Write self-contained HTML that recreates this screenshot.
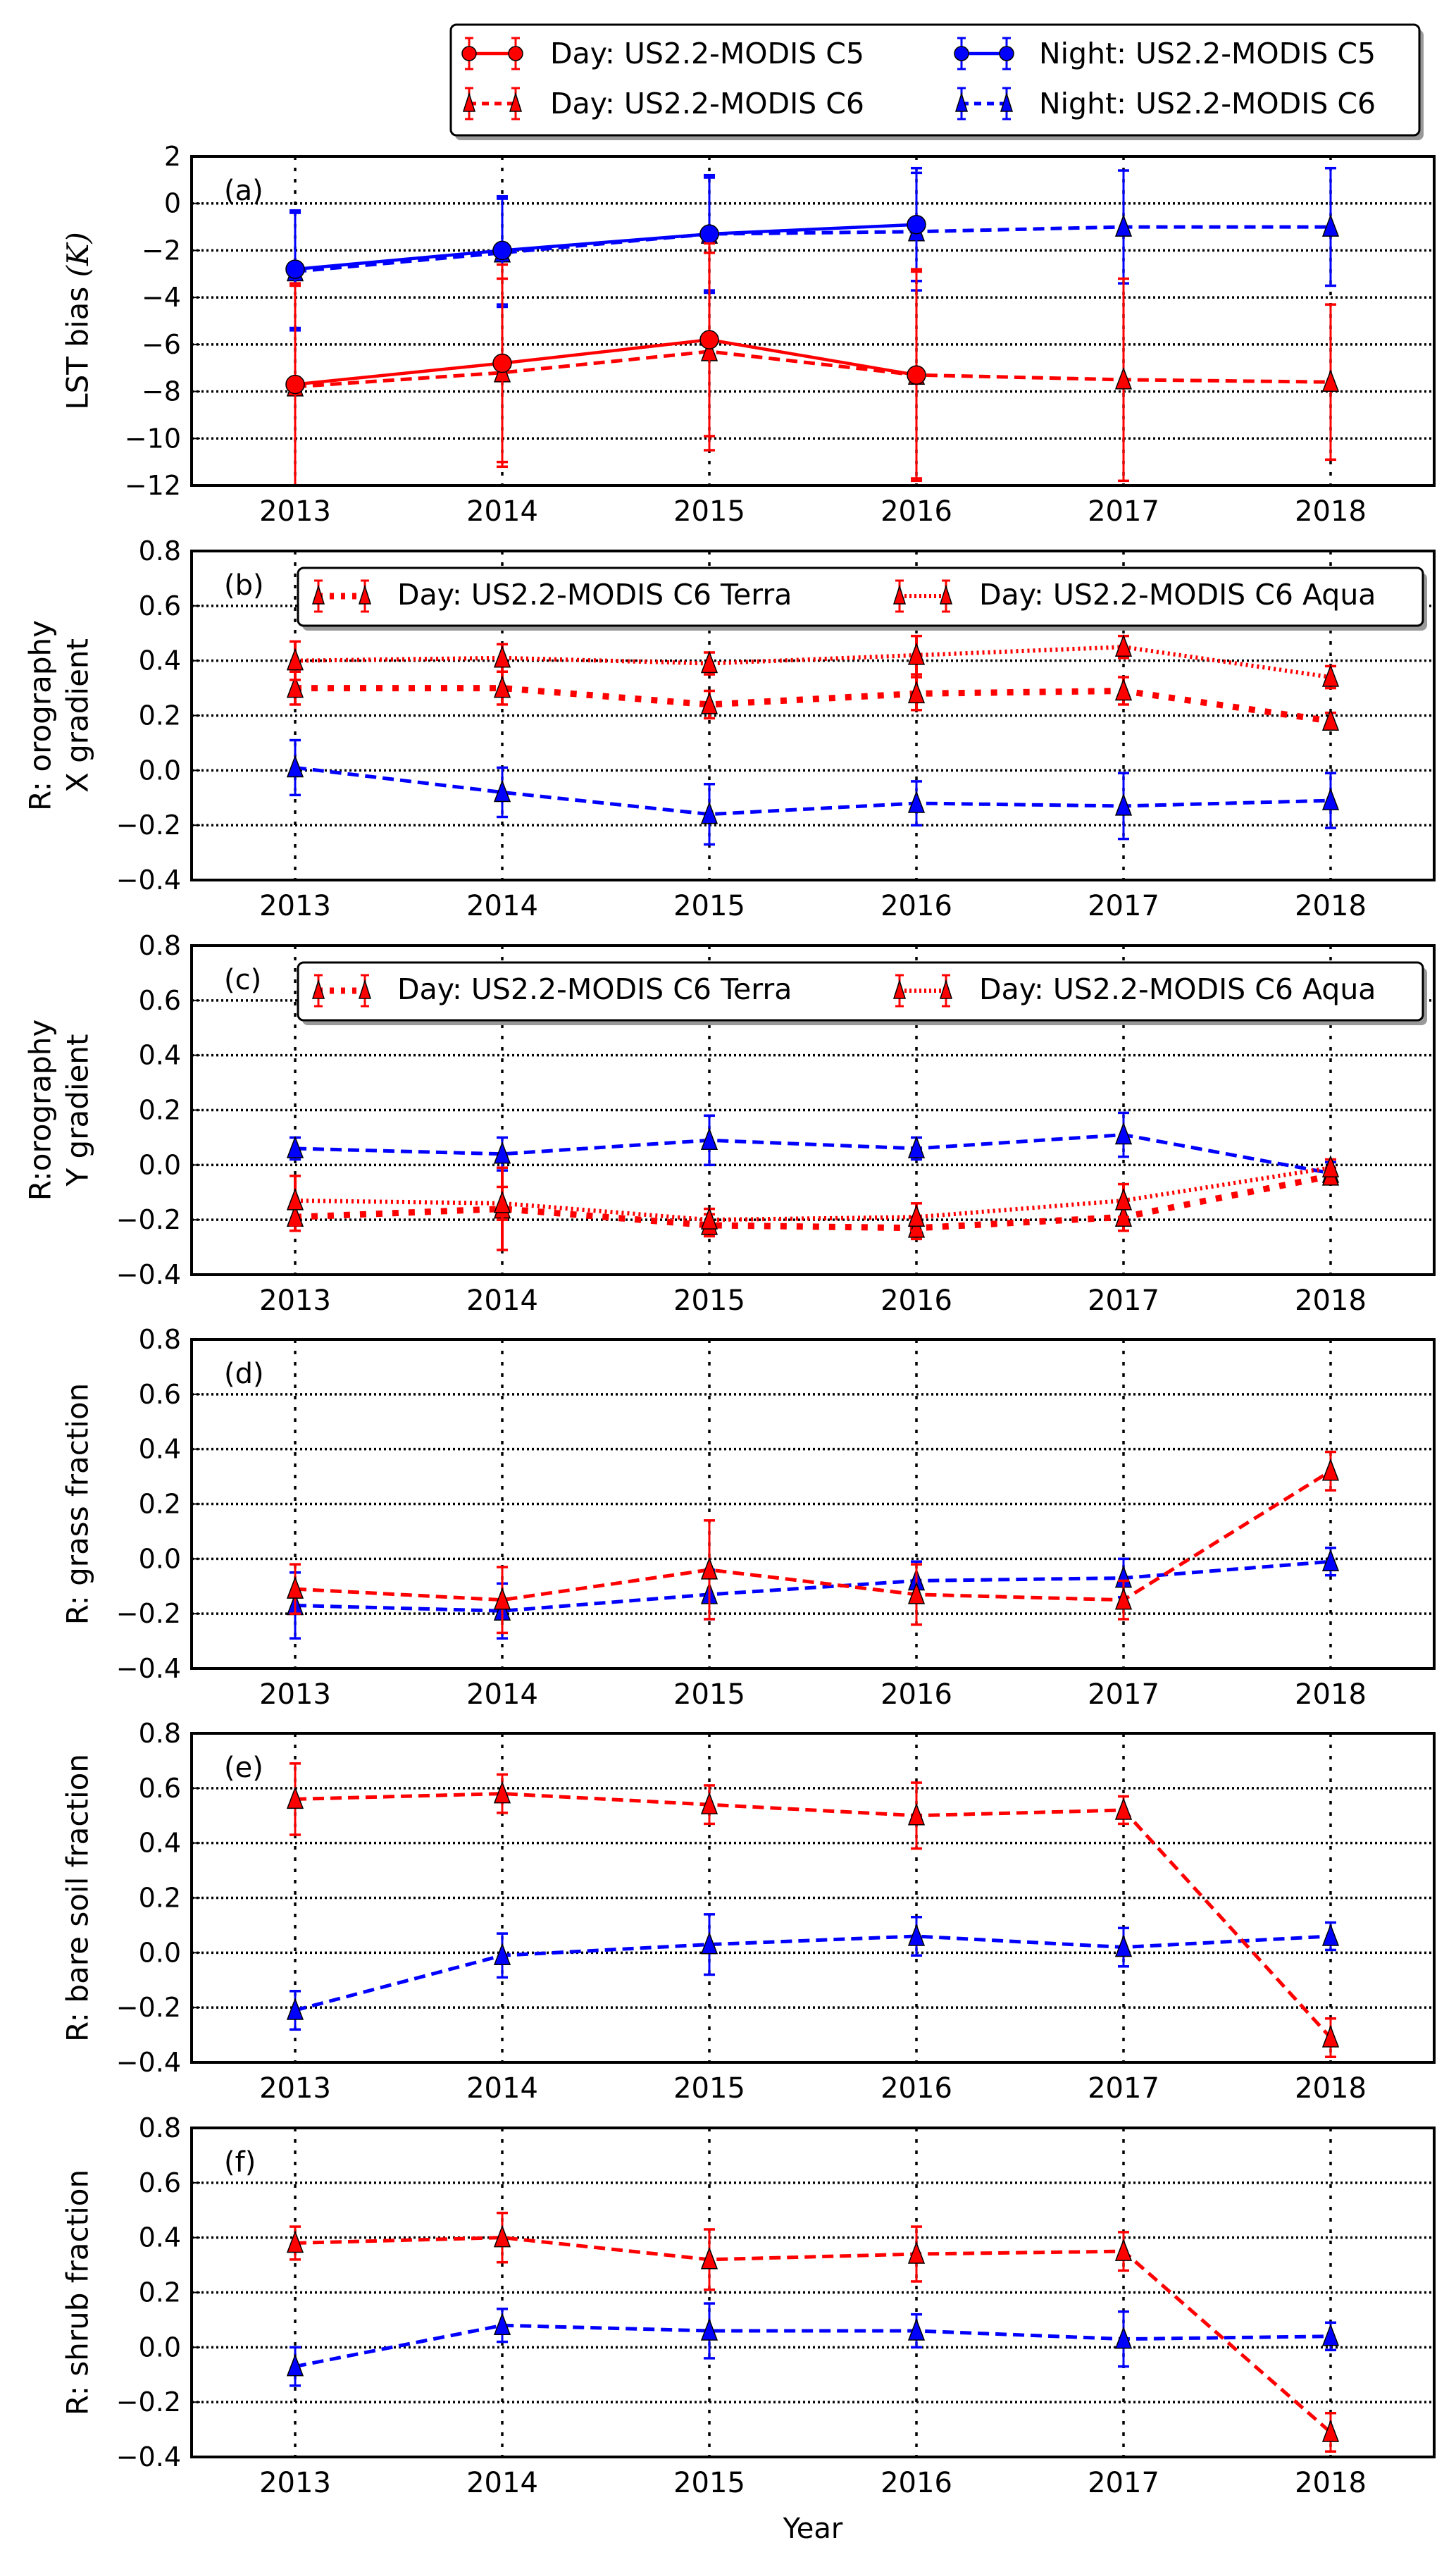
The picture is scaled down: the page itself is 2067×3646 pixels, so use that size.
<!DOCTYPE html>
<html><head><meta charset="utf-8"><style>
html,body{margin:0;padding:0;background:#fff;}
svg text{font-family:"DejaVu Sans","Liberation Sans",sans-serif;fill:#000;}
</style></head><body>
<svg id="fig" xmlns="http://www.w3.org/2000/svg" width="2067" height="3641" viewBox="0 0 2067 3641">
<rect width="2067" height="3641" fill="#fff"/>
</svg>
<script>
const years=[2013,2014,2015,2016,2017,2018];
const yearsC5=[2013,2014,2015,2016];
const aDayC5=[-7.7,-6.8,-5.8,-7.3];
const aDayC5Err=[4.3,4.2,4.1,4.5];
const aDayC6=[-7.8,-7.2,-6.3,-7.3,-7.5,-7.6];
const aDayC6Err=[4.3,4.0,4.2,4.4,4.3,3.3];
const aNightC5=[-2.8,-2.0,-1.3,-0.9];
const aNightC5Err=[2.5,2.3,2.5,2.4];
const aNightC6=[-2.9,-2.1,-1.3,-1.2,-1.0,-1.0];
const aNightC6Err=[2.5,2.3,2.4,2.5,2.4,2.5];
const bTerra=[0.30,0.30,0.24,0.28,0.29,0.18];
const bTerraErr=[0.06,0.06,0.05,0.06,0.05,0.03];
const bAqua=[0.40,0.41,0.39,0.42,0.45,0.34];
const bAquaErr=[0.07,0.05,0.04,0.07,0.04,0.04];
const bNight=[0.01,-0.08,-0.16,-0.12,-0.13,-0.11];
const bNightErr=[0.10,0.09,0.11,0.08,0.12,0.10];
const cTerra=[-0.19,-0.16,-0.22,-0.23,-0.19,-0.04];
const cTerraErr=[0.05,0.15,0.04,0.04,0.05,0.03];
const cAqua=[-0.13,-0.14,-0.20,-0.19,-0.13,-0.01];
const cAquaErr=[0.09,0.06,0.04,0.05,0.06,0.03];
const cNight=[0.06,0.04,0.09,0.06,0.11,-0.03];
const cNightErr=[0.04,0.06,0.09,0.04,0.08,0.04];
const dDay=[-0.11,-0.15,-0.04,-0.13,-0.15,0.32];
const dDayErr=[0.09,0.12,0.18,0.11,0.07,0.07];
const dNight=[-0.17,-0.19,-0.13,-0.08,-0.07,-0.01];
const dNightErr=[0.12,0.10,0.09,0.07,0.07,0.05];
const eDay=[0.56,0.58,0.54,0.50,0.52,-0.31];
const eDayErr=[0.13,0.07,0.07,0.12,0.05,0.07];
const eNight=[-0.21,-0.01,0.03,0.06,0.02,0.06];
const eNightErr=[0.07,0.08,0.11,0.07,0.07,0.05];
const fDay=[0.38,0.40,0.32,0.34,0.35,-0.31];
const fDayErr=[0.06,0.09,0.11,0.10,0.07,0.07];
const fNight=[-0.07,0.08,0.06,0.06,0.03,0.04];
const fNightErr=[0.07,0.06,0.10,0.06,0.10,0.05];
const aTicks=[2,0,-2,-4,-6,-8,-10,-12];
const aTickLabels=["2","0","\u22122","\u22124","\u22126","\u22128","\u221210","\u221212"];
const rTicks=[0.8,0.6,0.4,0.2,0.0,-0.2,-0.4];
const rTickLabels=["0.8","0.6","0.4","0.2","0.0","\u22120.2","\u22120.4"];

const NS="http://www.w3.org/2000/svg";
const svg=document.getElementById('fig');
const X0=272,X1=2036,H=467;
const tops=[222,782,1342,1901,2460,3020];
function el(tag,attrs,parent){const e=document.createElementNS(NS,tag);for(const k in attrs)e.setAttribute(k,attrs[k]);(parent||svg).appendChild(e);return e;}
function xs(yr){return X0+(yr-2012.5)/6*(X1-X0);}
function makeY(top,lo,hi){return v=>top+(hi-v)/(hi-lo)*H;}

function drawPanel(idx,lo,hi,ticks,tickLabels,ylabelLines,letter){
  const top=tops[idx];const ys=makeY(top,lo,hi);
  const g=el('g',{});
  
  
  const clipId='clip'+idx;
  const cp=el('clipPath',{id:clipId},g);el('rect',{x:X0,y:top,width:X1-X0,height:H},cp);
  ticks.forEach((t,i)=>{
    const y=ys(t);
    if(t!==lo&&t!==hi){const gl=el('line',{x1:X0,x2:X1,y1:y,y2:y,stroke:'#000','stroke-width':3.5,'stroke-dasharray':'3 4'},g);
      
      }
    const tl=el('text',{x:257,y:y+13,'text-anchor':'end','font-size':38},g);tl.textContent=tickLabels[i];
    
    
    el('line',{x1:X0,x2:X0+12,y1:y,y2:y,stroke:'#000','stroke-width':2},g);
  });
  years.forEach(yr=>{
    const x=xs(yr);
    const vl=el('line',{x1:x,x2:x,y1:top,y2:top+H,stroke:'#000','stroke-width':3.5,'stroke-dasharray':'5 11'},g);
    
    
    const xl=el('text',{x:x,y:top+H+50,'text-anchor':'middle','font-size':40},g);xl.textContent=yr;
    
    
  });
  const cy=top+H/2;
  const centers=ylabelLines.length===1?[110]:[57,110];
  ylabelLines.forEach((ln,i)=>{
    const t=el('text',{x:centers[i],y:cy,'text-anchor':'middle','dominant-baseline':'central','font-size':42,transform:`rotate(-90 ${centers[i]} ${cy})`},g);
    t.innerHTML=ln;
    
    
  });
  const lt=el('text',{x:318,y:top+62,'font-size':40},g);lt.textContent='('+letter+')';
  
  
  return {g,ys,clipId,top};
}
function series(P,xv,vals,errs,color,style,marker,name){
  const g=el('g',{'clip-path':`url(#${P.clipId})`},P.g);
  
  
  const pts=xv.map((yr,i)=>xs(yr)+','+P.ys(vals[i])).join(' ');
  const st={solid:{w:4.5,d:'none'},dash:{w:5,d:'16 9'},terra:{w:9,d:'9 14'},aqua:{w:6,d:'3 5'}}[style];
  const pl=el('polyline',{points:pts,fill:'none',stroke:color,'stroke-width':st.w,'stroke-dasharray':st.d},g);
  
  
  xv.forEach((yr,i)=>{
    const x=xs(yr),y1=P.ys(vals[i]+errs[i]),y2=P.ys(vals[i]-errs[i]);
    const eb=el('g',{},g);
    
    
    const w=(style==='terra'||style==='aqua')?4:3;
    el('line',{x1:x,x2:x,y1:y1,y2:y2,stroke:color,'stroke-width':w},eb);
    el('line',{x1:x-8,x2:x+8,y1:y1,y2:y1,stroke:color,'stroke-width':3.5},eb);
    el('line',{x1:x-8,x2:x+8,y1:y2,y2:y2,stroke:color,'stroke-width':3.5},eb);
  });
  xv.forEach((yr,i)=>{
    const x=xs(yr),y=P.ys(vals[i]);let m;
    if(marker==='circle')m=el('circle',{cx:x,cy:y,r:13,fill:color,stroke:'#000','stroke-width':1.5},g);
    else m=el('polygon',{points:`${x},${y-16} ${x-11},${y+13} ${x+11},${y+13}`,fill:color,stroke:'#000','stroke-width':1.5},g);
    
    
  });
}
function border(P){
  const b=el('rect',{x:X0,y:P.top,width:X1-X0,height:H,fill:'none',stroke:'#000','stroke-width':4},P.g);
  
  
}
function legendSample(parent,x1,x2,y,color,style,marker){
  const st={solid:{w:4.5,d:'none'},dash:{w:5,d:'10 8'},terra:{w:9,d:'6 10'},aqua:{w:6,d:'3 4'}}[style];
  el('line',{x1:x1,x2:x2,y1:y,y2:y,stroke:color,'stroke-width':st.w,'stroke-dasharray':st.d},parent);
  [x1,x2].forEach(x=>{
    el('line',{x1:x,x2:x,y1:y-22,y2:y+22,stroke:color,'stroke-width':3},parent);
    el('line',{x1:x-6,x2:x+6,y1:y-22,y2:y-22,stroke:color,'stroke-width':3},parent);
    el('line',{x1:x-6,x2:x+6,y1:y+22,y2:y+22,stroke:color,'stroke-width':3},parent);
    if(marker==='circle')el('circle',{cx:x,cy:y,r:10,fill:color,stroke:'#000','stroke-width':1.5},parent);
    else el('polygon',{points:`${x},${y-14} ${x-8},${y+11} ${x+8},${y+11}`,fill:color,stroke:'#000','stroke-width':1.5},parent);
  });
}
function legendBox(parent,x,y,w,h){
  el('rect',{x:x+6,y:y+7,width:w,height:h,rx:8,fill:'#999'},parent);
  el('rect',{x:x,y:y,width:w,height:h,rx:8,fill:'#fff',stroke:'#000','stroke-width':3},parent);
}
function legendText(parent,x,y,txt){const t=el('text',{x:x,y:y+14,'font-size':41},parent);t.textContent=txt;
  
  }

const Pa=drawPanel(0,-12,2,aTicks,aTickLabels,['LST bias <tspan font-family="DejaVu Serif" font-style="italic">(K)</tspan>'],'a');
series(Pa,years,aNightC6,aNightC6Err,'#0000ff','dash','tri','night-c6-series');
series(Pa,years,aDayC6,aDayC6Err,'#ff0000','dash','tri','day-c6-series');
series(Pa,yearsC5,aNightC5,aNightC5Err,'#0000ff','solid','circle','night-c5-series');
series(Pa,yearsC5,aDayC5,aDayC5Err,'#ff0000','solid','circle','day-c5-series');
border(Pa);
const LA=el('g',{});


legendBox(LA,640,35,1375,157);
legendSample(LA,666,732,76,'#ff0000','solid','circle');legendText(LA,781,76,'Day: US2.2-MODIS C5');
legendSample(LA,666,732,147,'#ff0000','dash','tri');legendText(LA,781,147,'Day: US2.2-MODIS C6');
legendSample(LA,1365,1429,76,'#0000ff','solid','circle');legendText(LA,1475,76,'Night: US2.2-MODIS C5');
legendSample(LA,1365,1429,147,'#0000ff','dash','tri');legendText(LA,1475,147,'Night: US2.2-MODIS C6');

function panelLegendBC(P){
  const L=el('g',{},P.g);
  
  
  const t=P.top;
  legendBox(L,423,t+24,1597,82);
  legendSample(L,452,518,t+64,'#ff0000','terra','tri');legendText(L,564,t+62,'Day: US2.2-MODIS C6 Terra');
  legendSample(L,1277,1343,t+64,'#ff0000','aqua','tri');legendText(L,1390,t+62,'Day: US2.2-MODIS C6 Aqua');
}
const Pb=drawPanel(1,-0.4,0.8,rTicks,rTickLabels,['R: orography','X gradient'],'b');
series(Pb,years,bNight,bNightErr,'#0000ff','dash','tri','night-series');
series(Pb,years,bTerra,bTerraErr,'#ff0000','terra','tri','day-terra-series');
series(Pb,years,bAqua,bAquaErr,'#ff0000','aqua','tri','day-aqua-series');
border(Pb);panelLegendBC(Pb);
const Pc=drawPanel(2,-0.4,0.8,rTicks,rTickLabels,['R:orography','Y gradient'],'c');
series(Pc,years,cNight,cNightErr,'#0000ff','dash','tri','night-series');
series(Pc,years,cTerra,cTerraErr,'#ff0000','terra','tri','day-terra-series');
series(Pc,years,cAqua,cAquaErr,'#ff0000','aqua','tri','day-aqua-series');
border(Pc);panelLegendBC(Pc);
const Pd=drawPanel(3,-0.4,0.8,rTicks,rTickLabels,['R: grass fraction'],'d');
series(Pd,years,dNight,dNightErr,'#0000ff','dash','tri','night-series');
series(Pd,years,dDay,dDayErr,'#ff0000','dash','tri','day-series');
border(Pd);
const Pe=drawPanel(4,-0.4,0.8,rTicks,rTickLabels,['R: bare soil fraction'],'e');
series(Pe,years,eNight,eNightErr,'#0000ff','dash','tri','night-series');
series(Pe,years,eDay,eDayErr,'#ff0000','dash','tri','day-series');
border(Pe);
const Pf=drawPanel(5,-0.4,0.8,rTicks,rTickLabels,['R: shrub fraction'],'f');
series(Pf,years,fNight,fNightErr,'#0000ff','dash','tri','night-series');
series(Pf,years,fDay,fDayErr,'#ff0000','dash','tri','day-series');
border(Pf);
const xt=el('text',{x:1154,y:3602,'text-anchor':'middle','font-size':40});xt.textContent='Year';


</script>
</body></html>
